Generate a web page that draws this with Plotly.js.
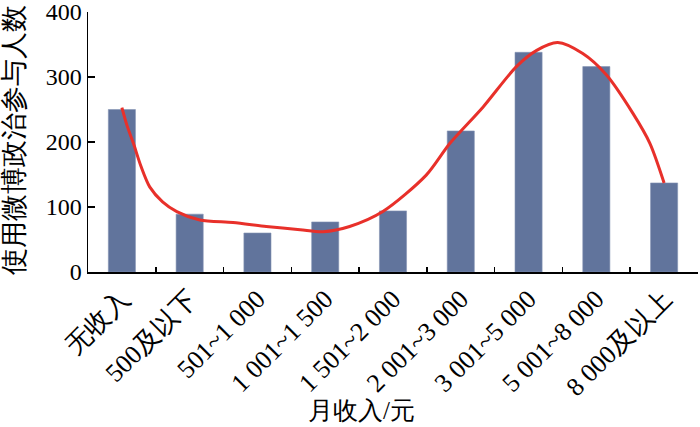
<!DOCTYPE html>
<html>
<head>
<meta charset="utf-8">
<script src="https://cdn.plot.ly/plotly-3.0.1.min.js"></script>
<style>
  html, body { margin: 0; padding: 0; background: #fff; }
  #plot { width: 700px; height: 427px; }
</style>
</head>
<body>
<div id="plot"></div>
<script>
// 月收入分组
const categories = ['无收入', '500及以下', '501~1 000', '1 001~1 500', '1 501~2 000',
  '2 001~3 000', '3 001~5 000', '5 001~8 000', '8 000及以上'];
// 使用微博政治参与人数
const counts = [250, 89, 60, 77, 94, 217, 338, 316, 137];

// 红色趋势线
const curveX = [0, 0.08, 0.17, 0.28, 0.41, 0.6, 0.81, 1.15, 1.64, 2.13, 2.63, 2.97, 3.36, 3.85, 4.49,
  4.84, 5.33, 5.82, 6.12, 6.43, 6.80, 7.15, 7.54, 7.79, 8.0];
const curveY = [253, 224, 198, 163, 131, 108, 93, 80, 76, 70, 65, 62, 70, 93, 149,
  198, 254, 316, 341, 353, 336, 303, 244, 198, 137];

const yTicks = [0, 100, 200, 300, 400];

const idx = categories.map((c, i) => i);
const bounds = idx.slice(0, -1).map(i => i + 0.5);

const serif = 'Liberation Serif';

const bars = {
  x: idx,
  y: counts,
  type: 'bar',
  width: 0.4,
  marker: {color: '#61749c', line: {color: '#8593b3', width: 0.6}},
  hoverinfo: 'y'
};

const trend = {
  x: curveX,
  y: curveY,
  mode: 'lines',
  type: 'scatter',
  line: {color: '#e8302a', width: 3, shape: 'spline', smoothing: 0.8},
  xaxis: 'x2',
  hoverinfo: 'skip'
};

const layout = {
  width: 700,
  height: 427,
  margin: {l: 88, r: 2, t: 12, b: 155},
  paper_bgcolor: 'white',
  plot_bgcolor: 'white',
  showlegend: false,
  font: {family: serif, color: '#000'},
  xaxis: {
    range: [-0.5, 8.5],
    tickmode: 'array',
    tickvals: idx,
    ticktext: categories,
    tickangle: -45,
    ticks: '',
    tickfont: {size: 26, family: serif},
    showline: true,
    linecolor: '#000',
    linewidth: 1.5,
    showgrid: false,
    zeroline: false
  },
  xaxis2: {
    overlaying: 'x',
    anchor: 'y',
    side: 'bottom',
    range: [-0.5, 8.5],
    tickmode: 'array',
    tickvals: bounds,
    showticklabels: false,
    ticks: 'inside',
    ticklen: 5,
    tickwidth: 1.5,
    tickcolor: '#000',
    showgrid: false,
    zeroline: false
  },
  yaxis: {
    range: [0, 400],
    tickmode: 'array',
    tickvals: yTicks,
    ticks: 'inside',
    ticklen: 7,
    tickwidth: 1.5,
    tickcolor: '#000',
    tickfont: {size: 24, family: serif},
    ticklabeloverflow: 'allow',
    showline: true,
    linecolor: '#000',
    linewidth: 1.5,
    showgrid: false,
    zeroline: false
  },
  annotations: [{
    text: '月收入/元',
    xref: 'paper', yref: 'paper',
    x: 0.449, y: -0.531,
    xanchor: 'center', yanchor: 'middle',
    showarrow: false,
    font: {size: 25, family: serif}
  }, {
    text: '使用微博政治参与人数',
    xref: 'paper', yref: 'paper',
    x: -0.1213, y: 0.508,
    xanchor: 'center', yanchor: 'middle',
    textangle: -90,
    showarrow: false,
    font: {size: 27, family: serif}
  }]
};

Plotly.newPlot('plot', [bars, trend], layout, {displayModeBar: false, staticPlot: true});
</script>
</body>
</html>
